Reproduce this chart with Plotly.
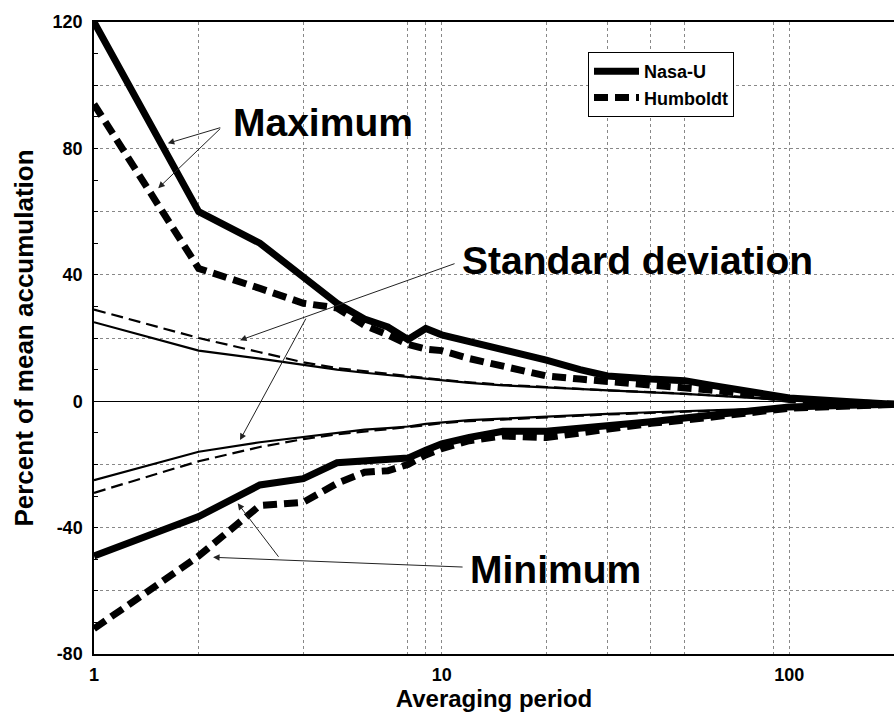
import math
import plotly.graph_objects as go

# ---------------- data ----------------
periods = [1, 2, 3, 4, 5, 6, 7, 8, 9, 10, 12, 15, 20, 25, 30, 40, 50, 60, 80, 100, 150, 200]

nasa_max = [120, 60, 50, 39, 31, 26, 23.5, 19.5, 23, 21, 19, 16.5, 13, 10, 8, 7, 6.5, 5, 2.5, 1, -0.2, -1]
humb_max = [94, 42, 35.7, 31, 29.5, 24, 21, 18, 16.5, 16, 13.5, 11, 8, 7, 6.3, 5, 4.5, 3.5, 2, 0.5, -0.5, -1]

nasa_sd_up = [25, 16, 13.5, 11.5, 10, 9, 8.3, 7.6, 7, 6.5, 5.8, 5, 4.3, 3.8, 3.3, 2.8, 2.3, 1.8, 1, 0.3, -0.5, -1]
humb_sd_up = [29, 20, 15.5, 12.3, 10.5, 9.5, 8.7, 8, 7.3, 6.8, 6, 5.2, 4.5, 3.9, 3.4, 2.9, 2.4, 1.9, 1.1, 0.3, -0.5, -1]
nasa_sd_dn = [-25, -16, -13, -11.4, -10, -9, -8.5, -8, -7.2, -6.7, -6, -5.5, -4.8, -4.4, -4, -3.5, -3.2, -2.9, -2.4, -1.9, -1.4, -1]
humb_sd_dn = [-29, -19, -14.5, -12, -10.5, -9.6, -9, -8.4, -7.6, -7, -6.3, -5.8, -5, -4.6, -4.2, -3.7, -3.3, -3, -2.5, -2, -1.5, -1]

nasa_min = [-49, -36.5, -26.5, -24.5, -19.5, -19, -18.5, -18, -15.5, -13.5, -11.5, -9.5, -9.5, -8.7, -8, -6.5, -5.3, -4.3, -2.8, -1.8, -1.3, -1]
humb_min = [-72, -49, -33, -32, -26, -22.5, -22, -20, -17, -15, -12.5, -11, -11.5, -10, -8.5, -7, -6, -5, -3.3, -2.2, -1.5, -1]

y_tickvals = [-80, -60, -40, -20, 0, 20, 40, 60, 80, 100, 120]
y_ticktext = ["-80", "", "-40", "", "0", "", "40", "", "80", "", "120"]
x_gridvals = [1, 2, 4, 8, 9, 10, 20, 30, 40, 50, 90, 100]
x_labels = {1: "1", 10: "10", 100: "100"}

# annotation arrows: (head_x, head_y, tail_x, tail_y) in data units
max_arrows = [(1.63, 81.6, 2.33, 86.7), (1.53, 67.4, 2.33, 86.7)]
sd_arrows = [(2.63, 19.3, 11.0, 43.7), (2.63, -12.3, 4.09, 26.6)]
min_arrows = [(2.2, -49.4, 11.6, -52.5), (2.59, -32.3, 3.42, -49.7)]

FONT = "Liberation Sans, Arial, Helvetica, sans-serif"

fig = go.Figure()

THIN = 2.2
THICK = 7

def add(y, dash, width, name=None, show=False):
    fig.add_trace(go.Scatter(
        x=periods, y=y, mode="lines", name=name, showlegend=show,
        line=dict(color="black", width=width, dash=dash),
        hoverinfo="skip"))

add(nasa_sd_up, "solid", THIN)
add(nasa_sd_dn, "solid", THIN)
add(humb_sd_up, "12px,6px", THIN)
add(humb_sd_dn, "12px,6px", THIN)
add(humb_max, "14px,7px", THICK)
add(humb_min, "14px,7px", THICK)
add(nasa_max, "solid", THICK, "Nasa-U", True)
add(nasa_min, "solid", THICK)
fig.add_trace(go.Scatter(x=[None], y=[None], mode="lines", name="Humboldt", showlegend=True,
                         line=dict(color="black", width=THICK, dash="14px,7px")))

W, H = 894, 713
L, R, T, B = 94, 0, 22, 59
pw, ph = W - L - R, H - T - B

def paper(px, py):
    return (px - L) / pw, (H - B - py) / ph

big = dict(family=FONT, size=39, color="black", weight="bold")
for txt, (px, py) in [("Maximum", (231, 123)), ("Standard deviation", (460, 260)), ("Minimum", (468, 569))]:
    xp, yp = paper(px, py)
    fig.add_annotation(text=txt, xref="paper", yref="paper", x=xp, y=yp,
                       xanchor="left", yanchor="middle", showarrow=False, font=big)

for hx, hy, tx, ty in max_arrows + sd_arrows + min_arrows:
    fig.add_annotation(text="", xref="x", yref="y", x=math.log10(hx), y=hy,
                       axref="x", ayref="y", ax=math.log10(tx), ay=ty,
                       showarrow=True, arrowhead=2, arrowsize=1.3, arrowwidth=1,
                       arrowcolor="#222", standoff=0, startstandoff=0)

lx, ly = paper(588, 52)
fig.update_layout(
    width=W, height=H,
    margin=dict(l=L, r=R, t=T, b=B),
    paper_bgcolor="white", plot_bgcolor="white",
    font=dict(family=FONT, color="black"),
    legend=dict(x=lx, y=ly, xanchor="left", yanchor="top",
                bgcolor="white", bordercolor="black", borderwidth=1,
                font=dict(family=FONT, size=18, color="black", weight="bold"),
                tracegroupgap=0, itemwidth=45),
    showlegend=True,
)

fig.update_xaxes(
    type="log", range=[0, math.log10(200)],
    tickvals=x_gridvals, ticktext=[x_labels.get(v, "") for v in x_gridvals],
    ticks="", showgrid=True, gridcolor="#888", griddash="dot", gridwidth=1,
    showline=True, linecolor="black", linewidth=1.5, mirror=True,
    tickfont=dict(family=FONT, size=18, color="black", weight="bold"),
    ticklabelstandoff=4,
    title=dict(text="Averaging period", font=dict(family=FONT, size=24, color="black", weight="bold"), standoff=2),
    zeroline=False,
)
fig.update_yaxes(
    range=[-80, 120],
    tickvals=y_tickvals, ticktext=y_ticktext,
    ticks="inside", ticklen=4, tickcolor="black",
    minor=dict(dtick=10, ticks="inside", ticklen=4, tickcolor="black", showgrid=False),
    showgrid=True, gridcolor="#888", griddash="dot", gridwidth=1,
    showline=True, linecolor="black", linewidth=1.5, mirror=False,
    zeroline=True, zerolinecolor="black", zerolinewidth=1.2,
    tickfont=dict(family=FONT, size=18, color="black", weight="bold"),
    ticklabelstandoff=6,
    title=dict(text="Percent of mean accumulation", font=dict(family=FONT, size=26, color="black", weight="bold"), standoff=12),
)

fig.write_html("out.html")
